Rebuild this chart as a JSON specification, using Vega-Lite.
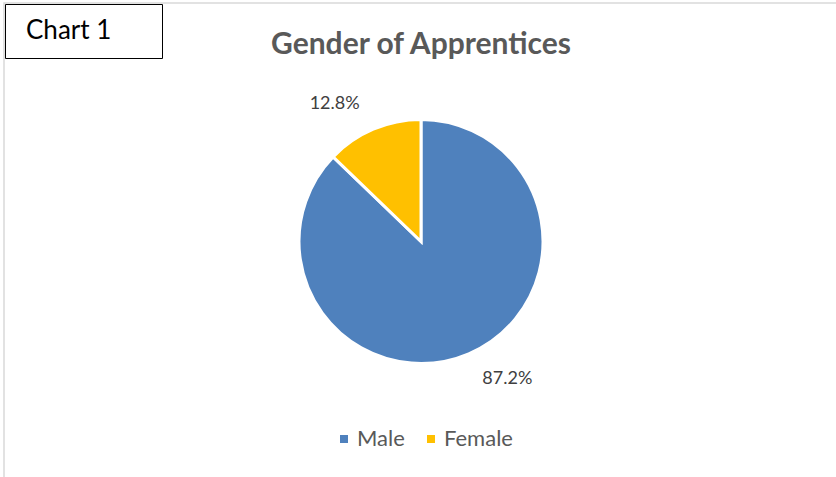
{
  "$schema": "https://vega.github.io/schema/vega-lite/v6.json",
  "autosize": {"type": "none"},
  "width": 834,
  "height": 477,
  "padding": {"left": 4, "top": 3, "right": 0, "bottom": 0},
  "background": "white",
  "view": {"stroke": "#d9d9d9", "strokeWidth": 1.5},
  "config": {
    "view": {"stroke": "#d9d9d9", "strokeWidth": 1.5},
    "font": "Lato"
  },
  "title": {
    "text": "Gender of Apprentices",
    "fontSize": 30,
    "fontWeight": "bold",
    "color": "#595959",
    "font": "Lato",
    "anchor": "middle",
    "frame": "group",
    "baseline": "alphabetic",
    "offset": 0,
    "dy": 81
  },
  "data": {
    "values": [
      {"gender": "Male", "share": 0.872},
      {"gender": "Female", "share": 0.128}
    ]
  },
  "encoding": {
    "theta": {"field": "share", "type": "quantitative", "stack": true},
    "order": {"field": "share", "sort": "descending"}
  },
  "layer": [
    {
      "mark": {"type": "arc", "outerRadius": 122, "stroke": "white", "strokeWidth": 3},
      "encoding": {
        "color": {
          "field": "gender",
          "type": "nominal",
          "scale": {"domain": ["Male", "Female"], "range": ["#4F81BD", "#FFC000"]},
          "legend": {
            "orient": "none",
            "legendX": 329,
            "legendY": 425,
            "direction": "horizontal",
            "title": null,
            "symbolType": "square",
            "symbolSize": 64,
            "symbolStrokeWidth": 0,
            "labelFontSize": 22,
            "labelFont": "Lato",
            "labelColor": "#595959",
            "labelOffset": 2,
            "columnPadding": 15,
            "padding": 0
          }
        }
      }
    },
    {
      "mark": {"type": "text", "radius": 162, "thetaOffset": -0.16, "fontSize": 18, "font": "Lato", "color": "#404040", "align": "center", "baseline": "middle"},
      "encoding": {
        "detail": {"field": "gender", "type": "nominal"},
        "text": {"field": "share", "type": "quantitative", "format": ".1%"},
        "opacity": {
          "datum": "Chart 1",
          "type": "ordinal",
          "scale": {"domain": ["Chart 1"], "range": [1]},
          "legend": {
            "orient": "none",
            "legendX": 1,
            "legendY": 1,
            "title": null,
            "labelFontSize": 26,
            "labelFont": "Lato",
            "labelColor": "#000000",
            "symbolType": "M-1,0L11.6,0",
            "symbolSize": 400,
            "symbolOpacity": 0,
            "symbolStrokeWidth": 0,
            "labelOffset": -19,
            "padding": 14,
            "strokeColor": "#000000",
            "fillColor": "white"
          }
        }
      }
    }
  ]
}
